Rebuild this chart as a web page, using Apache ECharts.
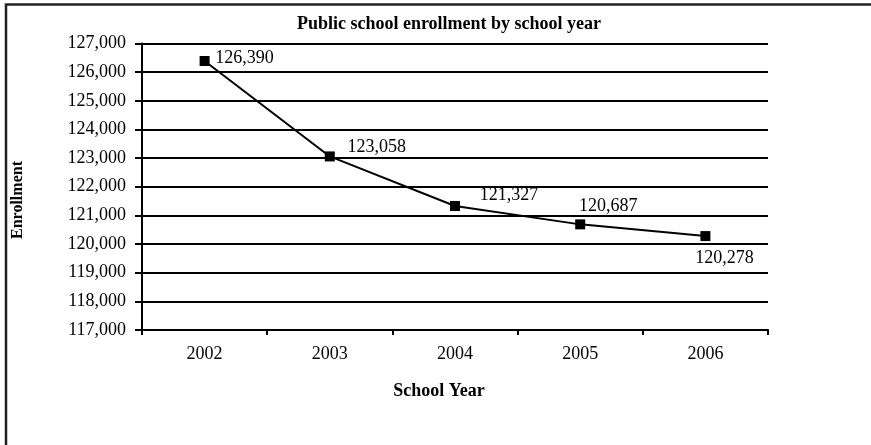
<!DOCTYPE html>
<html>
<head>
<meta charset="utf-8">
<script src="https://cdn.jsdelivr.net/npm/echarts@6/dist/echarts.min.js"></script>
<style>
html,body{margin:0;padding:0;background:#fff;}
#chart{width:871px;height:445px;}
</style>
</head>
<body>
<div id="chart"></div>
<script>
const categories = ['2002', '2003', '2004', '2005', '2006'];
const enrollment = [126390, 123058, 121327, 120687, 120278];
const yTicks = [117000, 118000, 119000, 120000, 121000, 122000, 123000, 124000, 125000, 126000, 127000];
const titleText = 'Public school enrollment by school year';
const xName = 'School Year';
const yName = 'Enrollment';

const FONT = '"Liberation Serif", "Times New Roman", serif';
const labelOffsets = [[40, -3], [47, -9], [54, -11], [28, -18], [19, 22]];
const fmt = v => v.toLocaleString('en-US');

const chart = echarts.init(document.getElementById('chart'), null, {renderer: 'canvas'});
chart.setOption({
  animation: false,
  backgroundColor: '#fff',
  title: {
    text: titleText,
    left: 444, top: 10, textAlign: 'center',
    textStyle: {fontFamily: FONT, fontWeight: 'bold', fontSize: 18, color: '#000'}
  },
  graphic: [
    {type: 'rect', shape: {x: 6, y: 4.5, width: 1200, height: 1200},
     style: {fill: 'none', stroke: '#222', lineWidth: 2.5}, silent: true},
    {type: 'text', x: 18, y: 200, rotation: Math.PI / 2,
     style: {text: yName, fontFamily: FONT, fontWeight: 'bold', fontSize: 16, fill: '#000',
             align: 'center', verticalAlign: 'middle'}},
    {type: 'text', x: 439, y: 391,
     style: {text: xName, fontFamily: FONT, fontWeight: 'bold', fontSize: 18, fill: '#000',
             align: 'center', verticalAlign: 'middle'}}
  ],
  grid: {left: 142, right: 103, top: 43.5, bottom: 115, containLabel: false},
  xAxis: {
    type: 'category',
    data: categories,
    boundaryGap: true,
    axisLine: {lineStyle: {color: '#000', width: 2}},
    axisTick: {show: true, alignWithLabel: false, length: 5, inside: false, lineStyle: {color: '#000', width: 2}},
    axisLabel: {fontFamily: FONT, fontSize: 18, color: '#000', margin: 15},
    splitLine: {show: false}
  },
  yAxis: {
    type: 'value',
    min: yTicks[0], max: yTicks[yTicks.length - 1], interval: 1000,
    axisLine: {show: true, lineStyle: {color: '#000', width: 2}},
    axisTick: {show: true, length: 7, lineStyle: {color: '#000', width: 2}},
    axisLabel: {fontFamily: FONT, fontSize: 18, color: '#000', margin: 16, formatter: v => fmt(v)},
    splitLine: {show: true, lineStyle: {color: '#000', width: 2}}
  },
  series: [{
    type: 'line',
    data: enrollment.map((v, i) => ({
      value: v,
      label: {show: true, position: 'inside', offset: labelOffsets[i], align: 'center', verticalAlign: 'middle'}
    })),
    symbol: 'rect',
    symbolSize: 10,
    itemStyle: {color: '#000'},
    lineStyle: {color: '#000', width: 2},
    label: {show: true, fontFamily: FONT, fontSize: 18, color: '#000', formatter: p => fmt(p.value)}
  }]
});
</script>
</body>
</html>
